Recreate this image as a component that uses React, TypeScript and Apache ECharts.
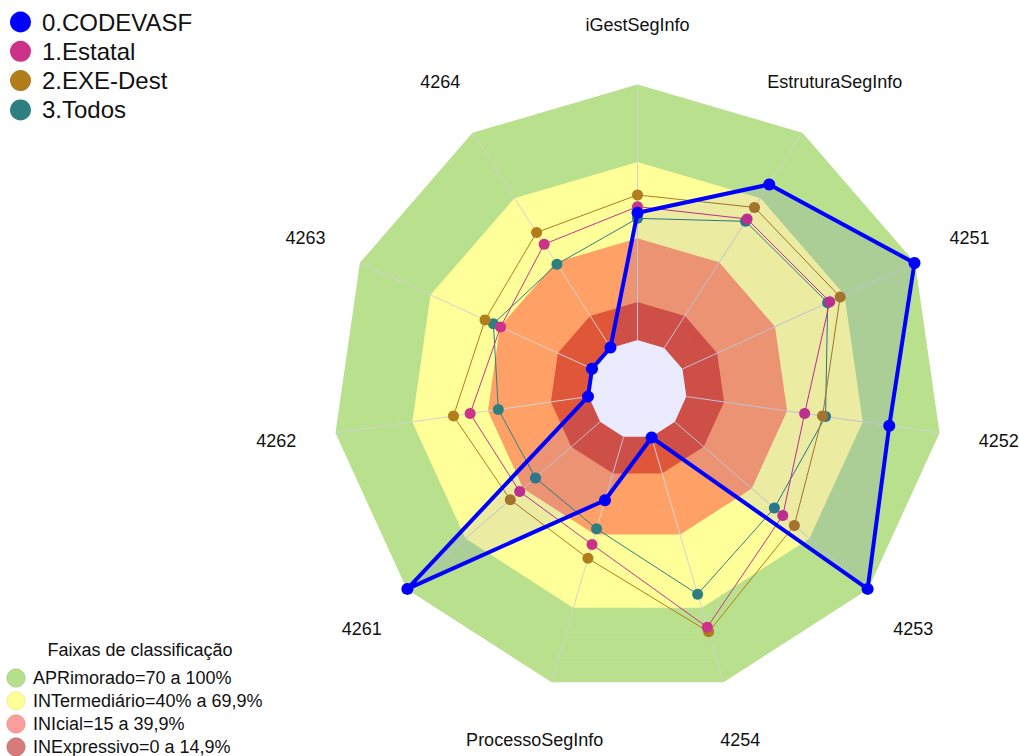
import React, { useEffect, useRef } from 'react';
import * as echarts from 'echarts';

// ---- data ----
const axisNames = ['iGestSegInfo', 'EstruturaSegInfo', '4251', '4252', '4253', '4254', 'ProcessoSegInfo', '4261', '4262', '4263', '4264'];
const seriesNames = ['0.CODEVASF', '1.Estatal', '2.EXE-Dest', '3.Todos'];
const codevasf = [49.8, 76.1, 100, 80.3, 100, 0, 25.7, 100, 0, 0, 0];
const estatal = [52.2, 60.0, 63.4, 46.7, 55.9, 77.7, 43.8, 41.6, 46.8, 39.5, 48.2];
const exeDest = [56.8, 65.4, 67.9, 53.8, 61.9, 79.6, 49.5, 46.5, 53.4, 46.2, 53.7];
const todos = [47.6, 58.9, 62.5, 55.0, 51.5, 64.2, 37.4, 33.4, 35.6, 42.6, 38.9];
const bandNames = ['APRimorado=70 a 100%', 'INTermediário=40% a 69,9%', 'INIcial=15 a 39,9%', 'INExpressivo=0 a 14,9%'];
const bandUpper = [100, 70, 40, 15];
const bandTitle = 'Faixas de classificação';

// ---- styles ----
const seriesColors = ['#0000ff', '#cc3388', '#b27d1c', '#2e8080'];
const bandColors = ['#b9e08c', '#ffff99', '#ffa066', '#e05638'];
const legendBandColors = ['#b6df8b', '#ffff99', '#ff9c9c', '#d57b7b'];
const legendBandStroke = ['#a6cf7b', '#eeee88', '#ee8c8c', '#c56b6b'];
const FONT = 'Liberation Sans, Arial, sans-serif';

const CX = 637.5;
const CY = 389.5;
const R0 = 50;
const R = 304.5;
const LABEL_R = 365;
const STEP = 5;

export default function App() {
  const ref = useRef<HTMLDivElement>(null);
  useEffect(() => {
    if (!ref.current) return;
    const chart = echarts.init(ref.current, null, { renderer: 'svg' });
    const n = axisNames.length;
    // ECharts places indicators counter-clockwise; reorder for clockwise display
    const order = [0];
    for (let i = n - 1; i >= 1; i--) order.push(i);
    const reorder = (arr: number[]) => order.map((i) => arr[i]);

    // ring colours per 5-unit step from the centre outward
    const segs = 100 / STEP;
    const bandOf = (v: number) => {
      let b = 0;
      for (let k = 0; k < bandUpper.length; k++) if (v < bandUpper[k]) b = k;
      return b;
    };
    const areaColors: string[] = [];
    for (let s = 0; s < segs; s++) areaColors.push(bandColors[bandOf(s * STEP + STEP / 2)]);
    // split lines coloured like the ring just outside them, hiding seams
    const lineColors: string[] = [];
    for (let s = 0; s <= segs; s++) lineColors.push(bandColors[bandOf(Math.min(s * STEP + STEP / 2, 99))]);

    const allData = [codevasf, estatal, exeDest, todos];
    const drawOrder = [3, 2, 1, 0];
    const series = drawOrder.map((si) => ({
      type: 'radar',
      name: seriesNames[si],
      symbol: 'circle',
      symbolSize: si === 0 ? 12 : 11,
      itemStyle: { color: seriesColors[si] },
      lineStyle: { color: seriesColors[si], width: si === 0 ? 4 : 1 },
      areaStyle: si === 0 ? { color: 'rgba(0,0,255,0.11)' } : undefined,
      data: [{ value: reorder(allData[si]), name: seriesNames[si] }],
      z: 10 + (3 - si),
    }));

    const graphics: any[] = [];
    // axis labels
    axisNames.forEach((name, k) => {
      const a = (Math.PI / 2) - (k * 2 * Math.PI) / n;
      graphics.push({
        type: 'text',
        x: CX + LABEL_R * Math.cos(a),
        y: CY - LABEL_R * Math.sin(a),
        style: { text: name, fontSize: 18, fontFamily: FONT, fill: '#111', align: 'center', verticalAlign: 'middle' },
      });
    });
    // series legend
    seriesNames.forEach((name, i) => {
      const y = 22 + i * 29.3;
      graphics.push({ type: 'circle', shape: { cx: 20.5, cy: y, r: 10.5 }, style: { fill: seriesColors[i] } });
      graphics.push({
        type: 'text', x: 42, y,
        style: { text: name, fontSize: 24, fontFamily: FONT, fill: '#111', align: 'left', verticalAlign: 'middle' },
      });
    });
    // band legend
    graphics.push({
      type: 'text', x: 140, y: 650,
      style: { text: bandTitle, fontSize: 18, fontFamily: FONT, fill: '#111', align: 'center', verticalAlign: 'middle' },
    });
    bandNames.forEach((name, i) => {
      const y = 678 + i * 23;
      graphics.push({ type: 'circle', shape: { cx: 16, cy: y, r: 9 }, style: { fill: legendBandColors[i], stroke: legendBandStroke[i], lineWidth: 1 } });
      graphics.push({
        type: 'text', x: 33, y,
        style: { text: name, fontSize: 18, fontFamily: FONT, fill: '#111', align: 'left', verticalAlign: 'middle' },
      });
    });

    chart.setOption({
      animation: false,
      backgroundColor: '#ffffff',
      radar: {
        center: [CX, CY],
        radius: [R0, R],
        startAngle: 90,
        shape: 'polygon',
        splitNumber: segs,
        indicator: order.map((i) => ({ name: axisNames[i], min: 0, max: 100 })),
        axisName: { show: false },
        axisLine: { show: true, lineStyle: { color: '#d2d2d2', width: 1 } },
        axisTick: { show: false },
        axisLabel: { show: false },
        splitLine: { show: true, lineStyle: { color: lineColors, width: 1.2 } },
        splitArea: { show: true, areaStyle: { color: areaColors, opacity: 1 } },
      },
      series,
      graphic: graphics,
    });
    return () => chart.dispose();
  }, []);
  return <div ref={ref} style={{ position: 'fixed', left: 0, top: 0, width: 1019, height: 756 }} />;
}
